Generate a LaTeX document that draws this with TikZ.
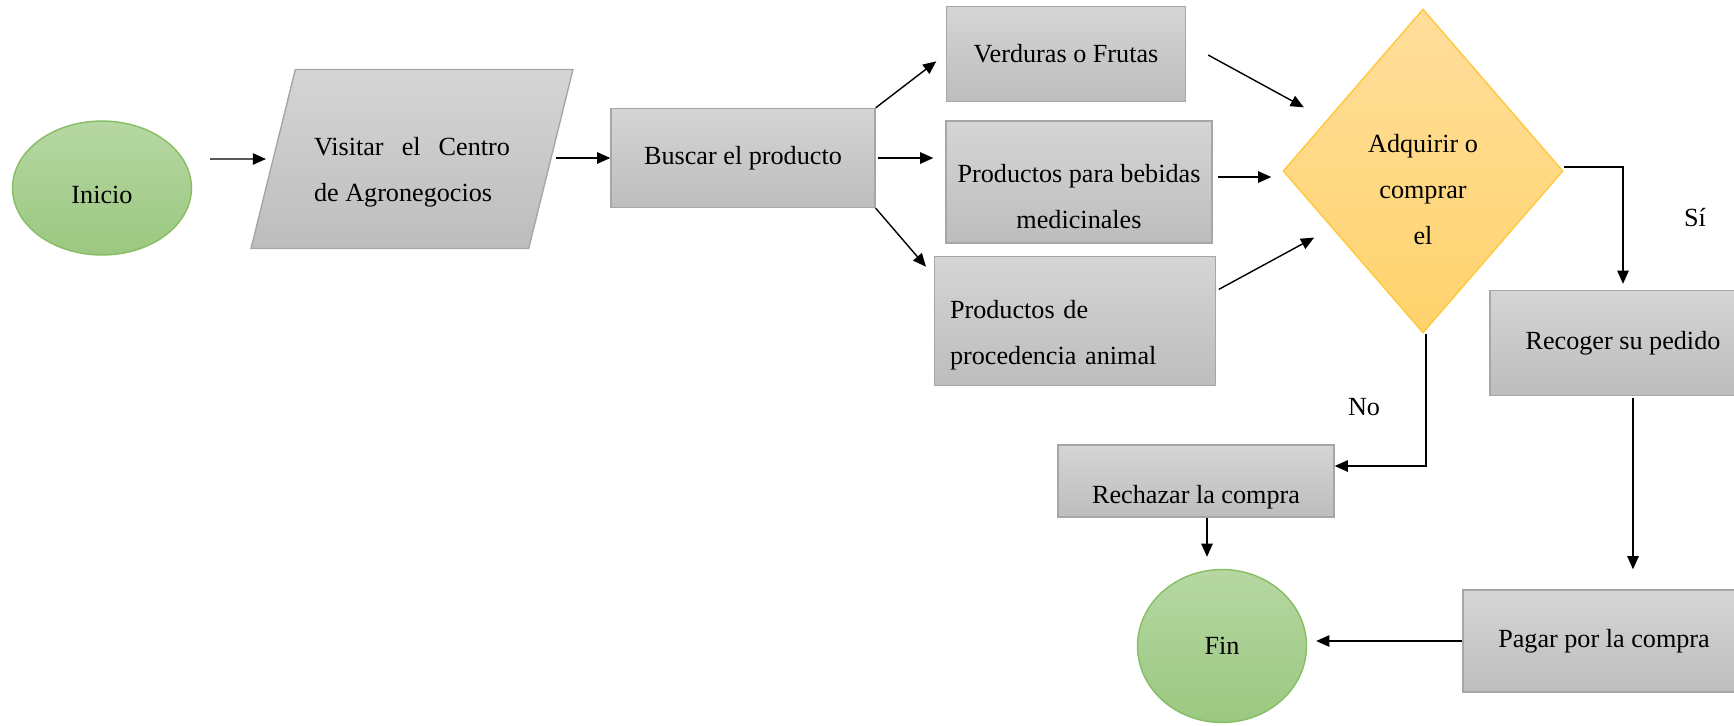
\documentclass[tikz,border=0pt]{standalone}
\usepackage{fontspec}
\setmainfont{Liberation Serif}
\usetikzlibrary{shapes.geometric,arrows.meta}

\definecolor{boxtop}{HTML}{D5D5D5}
\definecolor{boxbot}{HTML}{BDBDBD}
\definecolor{boxline}{HTML}{A6A6A6}
\definecolor{termtop}{HTML}{B6D7A2}
\definecolor{termbot}{HTML}{9BC881}
\definecolor{termline}{HTML}{86BE63}
\definecolor{dectop}{HTML}{FFDE9C}
\definecolor{decbot}{HTML}{FFD36C}
\definecolor{decline}{HTML}{FFC83D}

\begin{document}
\begin{tikzpicture}[x=0.02cm,y=-0.02cm,line width=0.8pt,
  every node/.style={font=\fontsize{14.9}{26.2}\selectfont},
  box/.style={rectangle,draw=boxline,top color=boxtop,bottom color=boxbot},
  term/.style={ellipse,draw=termline,top color=termtop,bottom color=termbot},
  >={Triangle[length=7.5pt,width=6.5pt]}]
\clip (0,0) rectangle (1734,725);

\node[term,minimum width=3.58cm,minimum height=2.68cm] (inicio) at (102,188) {\rule{0pt}{0.61cm}Inicio};
\node[trapezium,trapezium left angle=76,trapezium right angle=104,trapezium stretches body=true,
  draw=boxline,top color=boxtop,bottom color=boxbot,inner ysep=0.81cm,
  minimum width=6.44cm,minimum height=3.58cm,text width=3.92cm,align=justify] (visitar) at (412,159)
  {\rule{0pt}{0.9cm}Visitar el Centro de Agronegocios};
\node[box,minimum width=5.28cm,minimum height=1.98cm] (buscar) at (743,158) {Buscar el producto};
\node[box,minimum width=4.78cm,minimum height=1.9cm] (verduras) at (1066,54) {Verduras o Frutas};
\node[box,minimum width=5.32cm,minimum height=2.44cm,align=center] (bebidas) at (1079,182)
  {\rule{0pt}{0.95cm}Productos para bebidas\\medicinales};
\node[box,minimum width=5.62cm,minimum height=2.58cm,text width=5cm,align=left] (procedencia) at (1075,321)
  {\rule{0pt}{0.93cm}Productos de\\procedencia animal};
\node[diamond,draw=decline,top color=dectop,bottom color=decbot,inner sep=0pt,
  minimum width=5.6cm,minimum height=6.48cm,align=center] (adquirir) at (1423,171)
  {\rule{0pt}{1.09cm}Adquirir o\\comprar\\el};
\node[box,minimum width=5.32cm,minimum height=2.1cm] (recoger) at (1623,343) {Recoger su pedido};
\node[box,minimum width=5.52cm,minimum height=1.44cm] (rechazar) at (1196,481)
  {\raisebox{-0.32cm}[\height][\depth]{Rechazar la compra}};
\node[box,minimum width=5.64cm,minimum height=2.04cm] (pagar) at (1604,641) {Pagar por la compra};
\node[term,minimum width=3.38cm,minimum height=3.06cm] (fin) at (1222,646) {Fin};
\node (si) at (1695,218) {Sí};
\node (no) at (1364,407) {No};

\draw[->,shorten <=0.36cm,shorten >=0.13cm] (inicio.east |- visitar.center) -- (visitar.west);
\draw[->,shorten <=0.08cm] (visitar.east |- buscar.west) -- (buscar.west);
\draw[->,shorten >=0.24cm] (buscar.north east) -- (verduras.west);
\draw[->,shorten <=0.04cm,shorten >=0.24cm] (buscar.east) -- (buscar.east -| bebidas.west);
\draw[->,shorten >=0.24cm] (buscar.south east) -- ([yshift=-0.4cm]procedencia.north west);
\draw[->,shorten <=0.5cm,shorten >=0.52cm] ([yshift=0.22cm]verduras.east) -- (adquirir.152);
\draw[->,shorten <=0.1cm,shorten >=0.22cm] ([yshift=0.1cm]bebidas.east) -- ([yshift=0.1cm]bebidas.east -| adquirir.west);
\draw[->,shorten <=0.06cm,shorten >=0.4cm] ([yshift=-0.7cm]procedencia.north east) -- (adquirir.212);
\draw[->,shorten >=0.12cm] ([yshift=0.08cm]adquirir.east) -| (recoger.north);
\draw[->,shorten <=0.04cm,shorten >=0.4cm] ([xshift=0.2cm]recoger.south) -- ([xshift=0.2cm]recoger.south |- pagar.north);
\draw[->,shorten >=0.18cm] (pagar.west) -- (pagar.west -| fin.east);
\draw[->] ([xshift=0.06cm]adquirir.south) |- ([yshift=0.3cm]rechazar.east);
\draw[->,shorten >=0.24cm] ([xshift=0.22cm]rechazar.south) -- ([xshift=0.22cm]rechazar.south |- fin.north);
\end{tikzpicture}
\end{document}
